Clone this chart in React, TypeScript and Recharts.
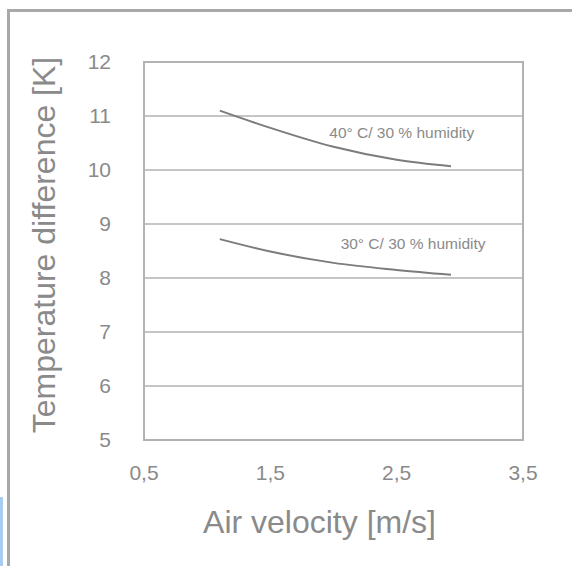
import {
  CartesianGrid,
  Label,
  Line,
  LineChart,
  ReferenceArea,
  ReferenceDot,
  XAxis,
  YAxis,
} from "recharts";

const velocity = [1.1, 1.5, 2.0, 2.5, 2.93];
const temp40 = [11.1, 10.78, 10.43, 10.19, 10.07];
const temp30 = [8.72, 8.49, 8.28, 8.15, 8.06];
const xTicks = [0.5, 1.5, 2.5, 3.5];
const yTicks = [5, 6, 7, 8, 9, 10, 11, 12];
const seriesLabels = [
  { text: "40\u00b0 C/ 30 % humidity", x: 2.54, y: 10.7 },
  { text: "30\u00b0 C/ 30 % humidity", x: 2.63, y: 8.63 },
];

const FONT = "'Liberation Sans', Arial, sans-serif";
const TEXT = "#8a8a8a";
const LINE = "#7c7c7c";
const GRID = "#b2b2b2";

const rows = velocity.map((v, i) => ({ v, t40: temp40[i], t30: temp30[i] }));

export default function App() {
  return (
    <div
      style={{
        position: "absolute",
        left: 0,
        top: 0,
        width: 572,
        height: 566,
        overflow: "hidden",
        background: "#fff",
        fontFamily: FONT,
      }}
    >
      <div
        style={{
          position: "absolute",
          left: 7,
          top: 9,
          width: 700,
          height: 700,
          borderTop: "3px solid #a8a8a8",
          borderLeft: "3px solid #a8a8a8",
        }}
      />
      <div
        style={{
          position: "absolute",
          left: 0,
          top: 497,
          width: 3,
          height: 69,
          background: "#a9cdf0",
        }}
      />
      <div style={{ position: "absolute", left: 0, top: 0 }}>
        <LineChart
          width={572}
          height={566}
          data={rows}
          margin={{ top: 62, right: 49, left: 84, bottom: 0 }}
        >
          <CartesianGrid vertical={false} stroke={GRID} strokeWidth={1.5} />
          <XAxis
            dataKey="v"
            type="number"
            domain={[0.5, 3.5]}
            ticks={xTicks}
            tickFormatter={(v) => String(v).replace(".", ",")}
            tickLine={false}
            axisLine={false}
            tickSize={0}
            tickMargin={25}
            height={126}
            tick={{ fill: TEXT, fontSize: 21, fontFamily: FONT }}
          >
            <Label
              content={({ viewBox }: any) => (
                <text
                  x={viewBox.x + viewBox.width / 2 - 14}
                  y={viewBox.y + 93}
                  textAnchor="middle"
                  fill={TEXT}
                  fontSize={32}
                  fontFamily={FONT}
                >
                  Air velocity [m/s]
                </text>
              )}
            />
          </XAxis>
          <YAxis
            type="number"
            domain={[5, 12]}
            ticks={yTicks}
            tickLine={false}
            axisLine={false}
            tickSize={0}
            tickMargin={33}
            width={60}
            tick={{ fill: TEXT, fontSize: 21, fontFamily: FONT }}
          >
            <Label
              content={({ viewBox }: any) => {
                const cx = viewBox.x - 29;
                const cy = viewBox.y + viewBox.height / 2 - 6;
                return (
                  <text
                    x={cx}
                    y={cy}
                    textAnchor="middle"
                    fill={TEXT}
                    fontSize={32}
                    fontFamily={FONT}
                    transform={`rotate(-90, ${cx}, ${cy})`}
                  >
                    Temperature difference [K]
                  </text>
                );
              }}
            />
          </YAxis>
          <ReferenceArea
            x1={0.5}
            x2={3.5}
            y1={5}
            y2={12}
            fill="none"
            stroke={GRID}
            strokeWidth={2}
          />
          <Line
            dataKey="t40"
            type="monotone"
            stroke={LINE}
            strokeWidth={2}
            dot={false}
            isAnimationActive={false}
          />
          <Line
            dataKey="t30"
            type="monotone"
            stroke={LINE}
            strokeWidth={2}
            dot={false}
            isAnimationActive={false}
          />
          {seriesLabels.map((l) => (
            <ReferenceDot
              key={l.text}
              x={l.x}
              y={l.y}
              r={0}
              fill="none"
              stroke="none"
              label={{
                value: l.text,
                position: "center",
                fill: TEXT,
                fontSize: 15.5,
                fontFamily: FONT,
              }}
            />
          ))}
        </LineChart>
      </div>
    </div>
  );
}
